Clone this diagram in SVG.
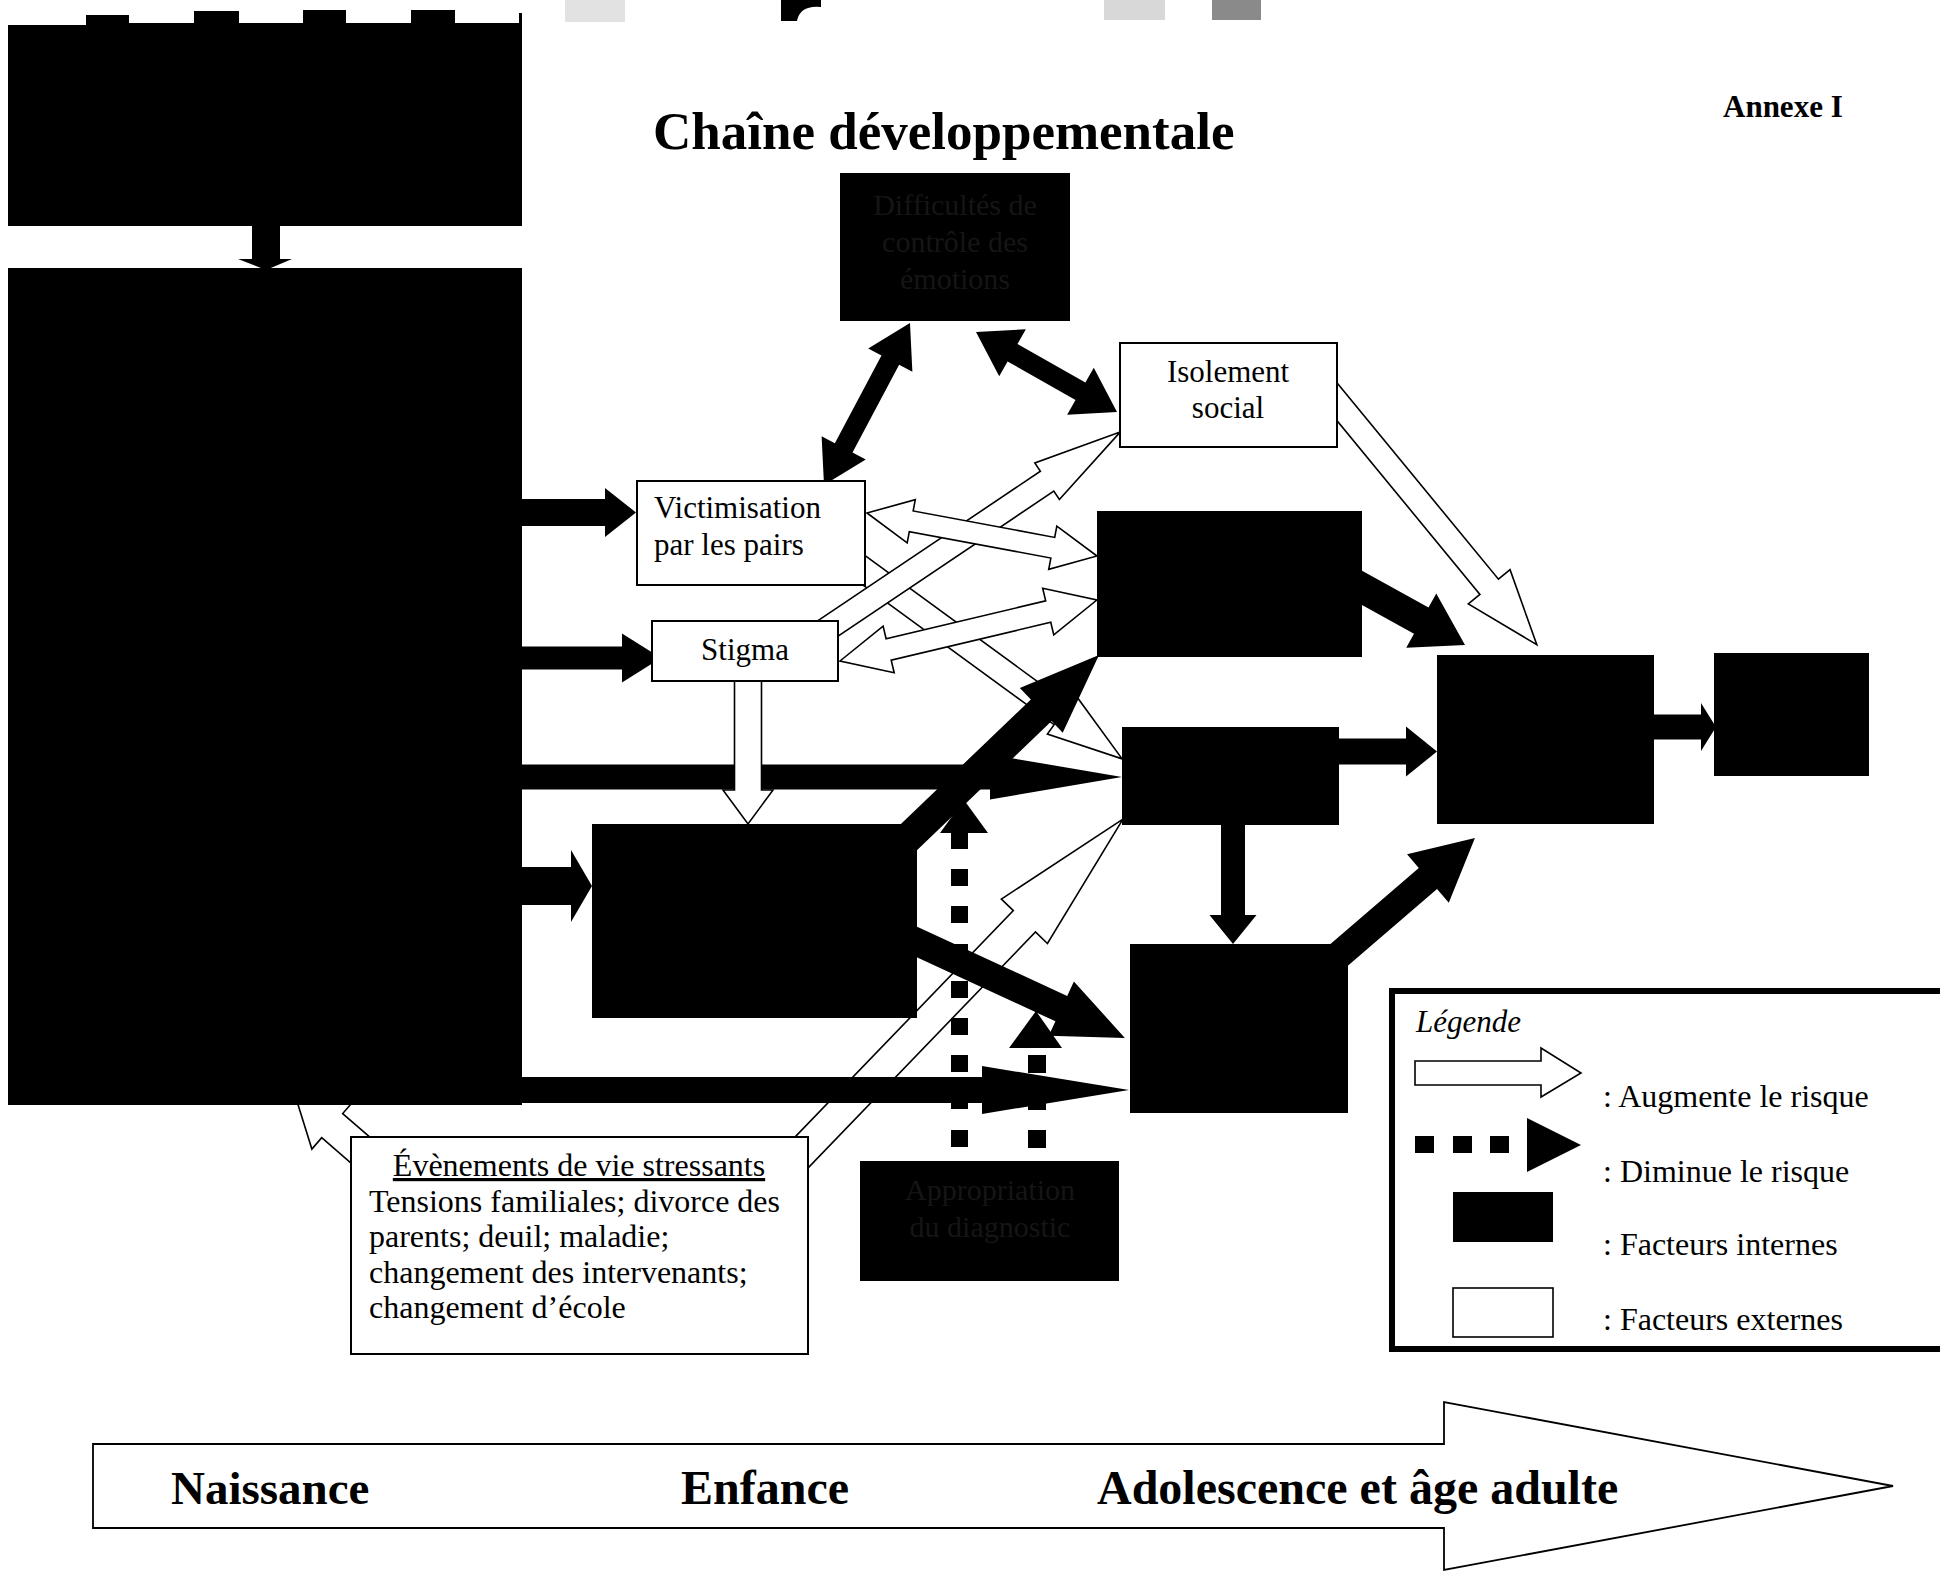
<svg xmlns="http://www.w3.org/2000/svg" width="1943" height="1573" viewBox="0 0 1943 1573">
<style>
.blk{fill:#000}
.wb{fill:#fff;stroke:#000;stroke-width:2}
.ho{fill:#fff;stroke:#000;stroke-width:1.6;stroke-linejoin:miter}
.t{font-family:"Liberation Serif","Times New Roman",serif;font-size:31px;fill:#000}
.faint{font-family:"Liberation Serif","Times New Roman",serif;font-size:30px;fill:#151515;text-anchor:middle}
.b{font-weight:bold}
</style>
<rect width="1943" height="1573" fill="#fff"/>
<g id="artifacts">
<rect x="565" y="0" width="60" height="22" fill="#e2e2e2"/>
<path d="M781,0 H821 V7 Q800,5 797,21 H781 Z" fill="#000"/>
<rect x="1104" y="0" width="61" height="20" fill="#d8d8d8"/>
<rect x="1212" y="0" width="49" height="20" fill="#8a8a8a"/>
</g>
<text class="t b" x="653" y="149" style="font-size:53px">Chaîne développementale</text>
<text class="t b" x="1723" y="117" style="font-size:31px">Annexe I</text>
<g id="connectors">
<path class="ho" transform="translate(1328.5,391.4) rotate(50.57)" d="M0,-12 H253 V-27 L328,0 L253,27 V12 H0 Z"/>
<path class="ho" transform="translate(854,563) rotate(36.15)" d="M0,-12.5 H257 V-24 L332,0 L257,24 V12.5 H0 Z"/>
<path class="ho" transform="translate(817.6,635.4) rotate(-33.9)" d="M0,-12 H276.5 V-22 L364.5,0 L276.5,22 V12 H0 Z"/>
<path class="ho" transform="translate(867,513) rotate(10.59)" d="M0,0 L45,-22 V-10.5 H189 V-22 L234,0 L189,22 V10.5 H45 V22 Z"/>
<path class="ho" transform="translate(840,661) rotate(-13.35)" d="M0,0 L50,-24 V-11 H214 V-24 L264,0 L214,24 V11 H50 V24 Z"/>
<path class="ho" transform="translate(373,1161) rotate(220.9)" d="M0,-16 H54 V-31 L104,0 L54,31 V16 H0 Z"/>
<path class="ho" transform="translate(794.2,1160.1) rotate(-46.05)" d="M0,-15.4 H331.7 V-32 L473.7,0 L331.7,32 V15.4 H0 Z"/>
<path class="blk" d="M252,224 H280 V259 H292 L266,270 L238,259 H252 Z"/>
<path class="blk" transform="translate(515,512.5)" d="M0,-13.5 H90 V-24.5 L121,0 L90,24.5 V13.5 H0 Z"/>
<path class="blk" transform="translate(515,658)" d="M0,-11.5 H107 V-24.5 L146,0 L107,24.5 V11.5 H0 Z"/>
<path class="blk" transform="translate(515,777)" d="M0,-12.5 H475 V-22.5 L607,0 L475,22.5 V12.5 H0 Z"/>
<path class="blk" transform="translate(515,886)" d="M0,-19 H56 V-36 L77,0 L56,36 V19 H0 Z"/>
<path class="blk" transform="translate(515,1090)" d="M0,-13 H467 V-24 L614,0 L467,24 V13 H0 Z"/>
<path class="blk" transform="translate(895.1,850.3) rotate(-43.77)" d="M0,-15 H202.4 V-31 L282.4,0 L202.4,31 V15 H0 Z"/>
<path class="blk" transform="translate(898.8,933.6) rotate(24.78)" d="M0,-14 H179 V-30 L249,0 L179,30 V14 H0 Z"/>
<path class="blk" transform="translate(1330,751.5)" d="M0,-13 H76 V-25 L107,0 L76,25 V13 H0 Z"/>
<path class="blk" transform="translate(1348.9,580.7) rotate(28.96)" d="M0,-15 H82.7 V-31 L132.7,0 L82.7,31 V15 H0 Z"/>
<path class="blk" transform="translate(1645,727)" d="M0,-12.5 H56 V-24 L71,0 L56,24 V12.5 H0 Z"/>
<path class="blk" transform="translate(1233,815) rotate(90)" d="M0,-12 H100 V-23.5 L129,0 L100,23.5 V12 H0 Z"/>
<path class="blk" transform="translate(1323.3,968.5) rotate(-40.7)" d="M0,-14 H138 V-32 L200,0 L138,32 V14 H0 Z"/>
<path class="blk" transform="translate(824,485) rotate(-62.04)" d="M0,0 L42,-25 V-10 H141.4 V-25 L183.4,0 L141.4,25 V10 H42 V25 Z"/>
<path class="blk" transform="translate(976,332) rotate(29.57)" d="M0,0 L42,-27 V-10 H120.1 V-27 L162.1,0 L120.1,27 V10 H42 V27 Z"/>
<path class="ho" transform="translate(748,670) rotate(90)" d="M0,-13.5 H120 V-25 L154,0 L120,25 V13.5 H0 Z"/>
<g class="blk">
<path d="M940,833 H988 L964,800 Z"/>
<rect x="951" y="832" width="17" height="17"/>
<rect x="951" y="869" width="17" height="17"/>
<rect x="951" y="906" width="17" height="17"/>
<rect x="951" y="944" width="17" height="17"/>
<rect x="951" y="981" width="17" height="17"/>
<rect x="951" y="1018" width="17" height="17"/>
<rect x="951" y="1055" width="17" height="17"/>
<rect x="951" y="1092" width="17" height="17"/>
<rect x="951" y="1130" width="17" height="17"/>
<path d="M1009,1048 H1062 L1036,1011 Z"/>
<rect x="1028" y="1055" width="18" height="18"/>
<rect x="1028" y="1092" width="18" height="18"/>
<rect x="1028" y="1130" width="18" height="18"/>
</g>
</g>
<g id="node-top"><path class="blk" d="M8,25 H86 V15 H129 V23 H194 V11 H239 V23 H303 V10 H346 V23 H411 V10 H455 V23 H519 V13 H522 V226 H8 Z"/></g>
<g id="node-big"><rect class="blk" x="8" y="268" width="514" height="837"/></g>
<g id="node-difficultes"><rect class="blk" x="840" y="173" width="230" height="148"/>
<text class="faint" x="955" y="215">Difficultés de</text><text class="faint" x="955" y="252">contrôle des</text><text class="faint" x="955" y="289">émotions</text></g>
<g id="node-victimisation"><rect class="wb" x="637" y="481" width="228" height="104"/>
<text class="t" x="654" y="518">Victimisation</text><text class="t" x="654" y="555">par les pairs</text></g>
<g id="node-stigma"><rect class="wb" x="652" y="621" width="186" height="60"/>
<text class="t" x="745" y="660" text-anchor="middle">Stigma</text></g>
<g id="node-isolement"><rect class="wb" x="1120" y="343" width="217" height="104"/>
<text class="t" x="1228" y="382" text-anchor="middle">Isolement</text><text class="t" x="1228" y="418" text-anchor="middle">social</text></g>
<g id="node-a"><rect class="blk" x="1097" y="511" width="265" height="146"/></g>
<g id="node-b"><rect class="blk" x="1122" y="727" width="217" height="98"/></g>
<g id="node-c"><rect class="blk" x="592" y="824" width="325" height="194"/></g>
<g id="node-d"><rect class="blk" x="1130" y="944" width="218" height="169"/></g>
<g id="node-e"><rect class="blk" x="1437" y="655" width="217" height="169"/></g>
<g id="node-f"><rect class="blk" x="1714" y="653" width="155" height="123"/></g>
<g id="node-appropriation"><rect class="blk" x="860" y="1161" width="259" height="120"/>
<text class="faint" x="990" y="1200">Appropriation</text><text class="faint" x="990" y="1237">du diagnostic</text></g>
<g id="node-evenements"><rect class="wb" x="351" y="1137" width="457" height="217"/>
<text class="t" x="579" y="1176" text-anchor="middle" style="font-size:32px;text-decoration:underline">Évènements de vie stressants</text>
<text class="t" style="font-size:32px"><tspan x="369" y="1212">Tensions familiales; divorce des</tspan><tspan x="369" y="1247">parents; deuil; maladie;</tspan><tspan x="369" y="1283">changement des intervenants;</tspan><tspan x="369" y="1318">changement d’école</tspan></text></g>
<g id="legend">
<path d="M1940,991 H1392 V1349 H1940" fill="none" stroke="#000" stroke-width="6"/>
<text class="t" x="1416" y="1032" font-style="italic">Légende</text>
<path class="ho" d="M1415,1061 H1541 V1048 L1581,1073 L1541,1097 V1085 H1415 Z"/>
<text class="t" x="1603" y="1107" style="font-size:32px">: Augmente le risque</text>
<g class="blk"><rect x="1415" y="1136" width="19" height="17"/><rect x="1453" y="1136" width="19" height="17"/><rect x="1490" y="1136" width="19" height="17"/><path d="M1527,1118 L1581,1145 L1527,1172 Z"/></g>
<text class="t" x="1603" y="1182" style="font-size:32px">: Diminue le risque</text>
<rect class="blk" x="1453" y="1192" width="100" height="50"/>
<text class="t" x="1603" y="1255" style="font-size:32px">: Facteurs internes</text>
<rect x="1453" y="1288" width="100" height="49" fill="#fff" stroke="#000" stroke-width="1.6"/>
<text class="t" x="1603" y="1330" style="font-size:32px">: Facteurs externes</text>
</g>
<g id="timeline">
<path d="M93,1444 H1444 V1402 L1893,1486 L1444,1570 V1528 H93 Z" fill="#fff" stroke="#000" stroke-width="1.8"/>
<text class="t b" x="171" y="1504" style="font-size:47px">Naissance</text>
<text class="t b" x="681" y="1504" style="font-size:48px">Enfance</text>
<text class="t b" x="1097" y="1504" style="font-size:48px">Adolescence et âge adulte</text>
</g>
</svg>
